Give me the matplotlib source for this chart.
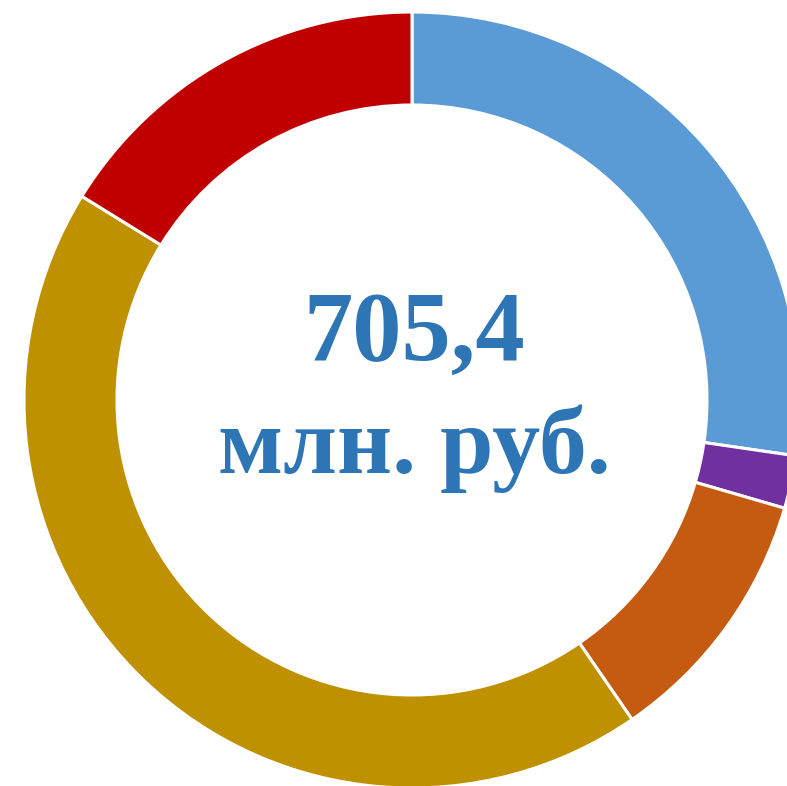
import matplotlib.pyplot as plt
from matplotlib.patches import Wedge

# доли сегментов, по часовой стрелке от 12 часов (%)
labels = ['Синий', 'Фиолетовый', 'Оранжевый', 'Золотой', 'Красный']
shares = [27.3, 2.2, 10.9, 43.4, 16.2]
colors = ['#5B9BD5', '#7030A0', '#C55A11', '#BF9000', '#C00000']
total_text = ['705,4', 'млн. руб.']

fig = plt.figure(figsize=(7.87, 7.86), dpi=100)
ax = fig.add_axes([0, 0, 1, 1])
ax.set_xlim(-412, 375)
ax.set_ylim(-386, 400)
ax.set_aspect('equal')
ax.axis('off')

r_out = 388
width = 93
angle = 90.0
total = sum(shares)
for share, color in zip(shares, colors):
    theta = share / total * 360
    w = Wedge((0, 0), r_out, angle - theta, angle, width=width,
              facecolor=color, edgecolor='white', linewidth=2.2)
    ax.add_patch(w)
    angle -= theta

font = dict(family='Liberation Serif', weight='bold', color='#2E75B6',
            ha='center', va='baseline')
ax.text(2, 40, total_text[0], fontsize=71, **font)
ax.text(2, -73, total_text[1], fontsize=69, **font)

fig.savefig('out.png', dpi=100)
